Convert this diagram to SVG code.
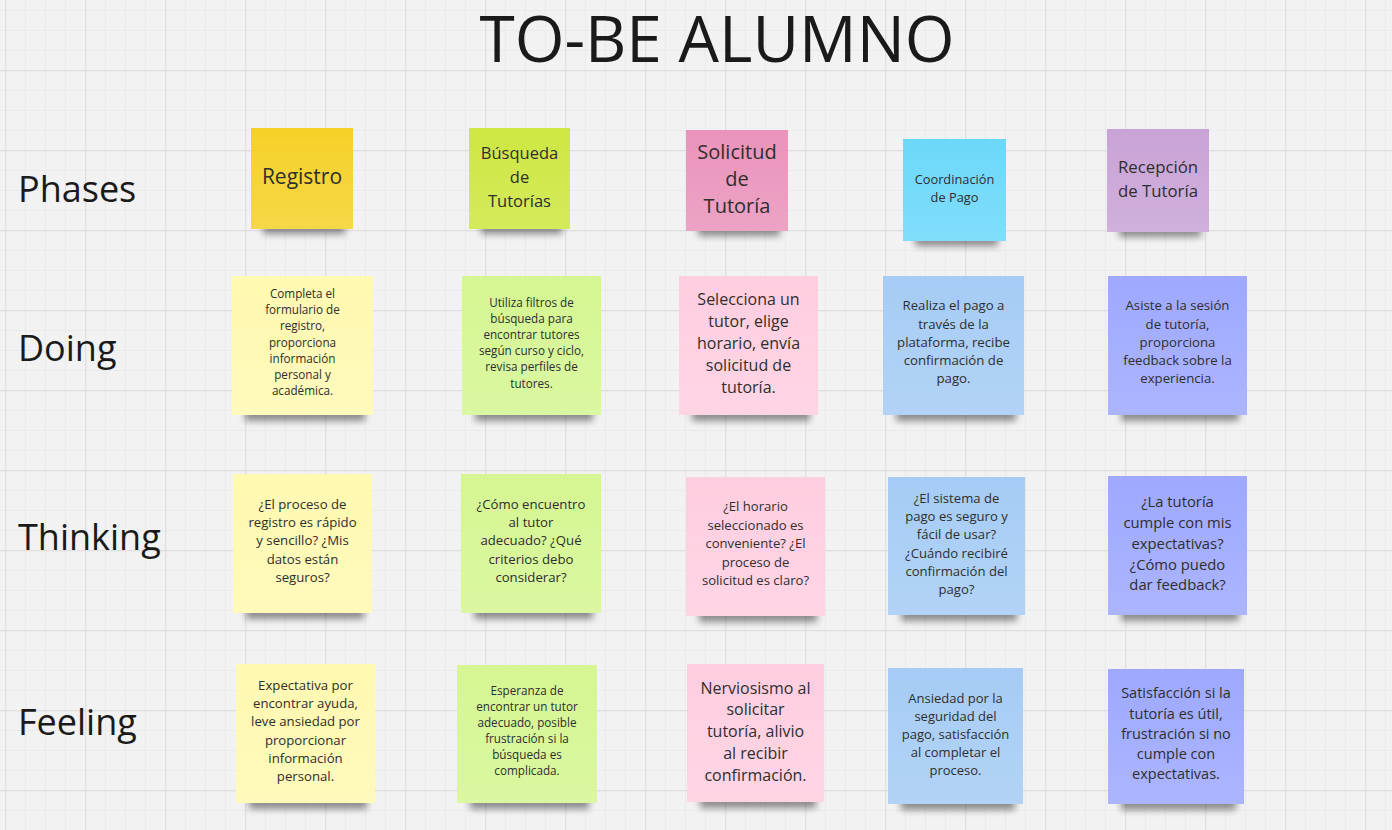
<svg xmlns="http://www.w3.org/2000/svg" width="1392" height="830" viewBox="0 0 1392 830">
<defs>
<pattern id="grid" patternUnits="userSpaceOnUse" x="5" y="-10" width="80" height="80">
<rect x="0" y="0" width="80" height="80" fill="#f2f2f2"/>
<g fill="#eaeaea">
<rect x="20" y="0" width="1" height="80"/><rect x="40" y="0" width="1" height="80"/><rect x="60" y="0" width="1" height="80"/>
<rect x="0" y="20" width="80" height="1"/><rect x="0" y="40" width="80" height="1"/><rect x="0" y="60" width="80" height="1"/>
</g>
<g fill="#dfdfdf">
<rect x="0" y="0" width="1.3" height="80"/><rect x="0" y="0" width="80" height="1.3"/>
</g>
</pattern>
<linearGradient id="sheen" x1="0" y1="0" x2="0" y2="1">
<stop offset="0" stop-color="#fff" stop-opacity="0"/>
<stop offset="1" stop-color="#fff" stop-opacity="0.14"/>
</linearGradient>
<filter id="blur" x="-20%" y="-100%" width="140%" height="300%">
<feGaussianBlur stdDeviation="3.5"/>
</filter>
<style>
.lbl{font-family:"Open Sans","Liberation Sans",sans-serif;fill:#1a1a1a;font-size:36px}
.title{font-family:"Open Sans","Liberation Sans",sans-serif;fill:#1a1a1a;font-size:64px;text-anchor:middle}
.t{font-family:"Open Sans","Liberation Sans",sans-serif;fill:#2e2e2e;text-anchor:middle}
.sh{fill:#000;opacity:0.42;filter:url(#blur)}
.gl{fill:url(#sheen)}
.yel{fill:#fff9b1}.grn{fill:#d5f692}.pnk{fill:#ffcee0}.blu{fill:#a6ccf5}.vio{fill:#9ea9ff}
</style>
</defs>
<rect id="background" x="0" y="0" width="1392" height="830" fill="url(#grid)"/>

<g id="labels">
<text class="title" x="717" y="62">TO-BE ALUMNO</text>
<text class="lbl" x="18" y="202">Phases</text>
<text class="lbl" x="18" y="361">Doing</text>
<text class="lbl" x="18" y="550">Thinking</text>
<text class="lbl" x="18" y="735">Feeling</text>
</g>

<!-- Phases -->
<g id="phase-registro">
<rect class="sh" x="263" y="222" width="82" height="12"/>
<rect x="251" y="128" width="102" height="101" fill="#f5d128"/>
<rect class="gl" x="251" y="128" width="102" height="101"/>
<text class="t" x="302" y="184" font-size="21">Registro</text>
</g>
<g id="phase-busqueda">
<rect class="sh" x="481" y="222" width="81" height="12"/>
<rect x="469" y="128" width="101" height="101" fill="#cee741"/>
<rect class="gl" x="469" y="128" width="101" height="101"/>
<text class="t" x="519.5" y="159" font-size="16.5"><tspan x="519.5">Búsqueda</tspan><tspan x="519.5" dy="24">de</tspan><tspan x="519.5" dy="23.5">Tutorías</tspan></text>
</g>
<g id="phase-solicitud">
<rect class="sh" x="698" y="224" width="82" height="12"/>
<rect x="686" y="130" width="102" height="101" fill="#ea94bb"/>
<rect class="gl" x="686" y="130" width="102" height="101"/>
<text class="t" x="737" y="158.5" font-size="20"><tspan x="737">Solicitud</tspan><tspan x="737" dy="27.5">de</tspan><tspan x="737" dy="27">Tutoría</tspan></text>
</g>
<g id="phase-coordinacion">
<rect class="sh" x="915" y="234" width="83" height="12"/>
<rect x="903" y="139" width="103" height="102" fill="#6cd8fa"/>
<rect class="gl" x="903" y="139" width="103" height="102"/>
<text class="t" x="954.5" y="184" font-size="12.8"><tspan x="954.5">Coordinación</tspan><tspan x="954.5" dy="18.3">de Pago</tspan></text>
</g>
<g id="phase-recepcion">
<rect class="sh" x="1119" y="225" width="82" height="12"/>
<rect x="1107" y="129" width="102" height="103" fill="#c9a3d6"/>
<rect class="gl" x="1107" y="129" width="102" height="103"/>
<text class="t" x="1158" y="173.3" font-size="16.8"><tspan x="1158">Recepción</tspan><tspan x="1158" dy="23.4">de Tutoría</tspan></text>
</g>

<!-- Doing -->
<g id="doing-registro">
<rect class="sh" x="245" y="407" width="120" height="14"/>
<rect class="yel" x="232" y="276" width="141" height="139"/>
<rect class="gl" x="232" y="276" width="141" height="139"/>
<text class="t" x="302.5" y="297.6" font-size="11.7"><tspan x="302.5">Completa el</tspan><tspan x="302.5" dy="16.3">formulario de</tspan><tspan x="302.5" dy="16.3">registro,</tspan><tspan x="302.5" dy="16.3">proporciona</tspan><tspan x="302.5" dy="16.3">información</tspan><tspan x="302.5" dy="16.3">personal y</tspan><tspan x="302.5" dy="16.3">académica.</tspan></text>
</g>
<g id="doing-busqueda">
<rect class="sh" x="475" y="407" width="118" height="14"/>
<rect class="grn" x="462" y="276" width="139" height="139"/>
<rect class="gl" x="462" y="276" width="139" height="139"/>
<text class="t" x="531.5" y="306.6" font-size="11.7"><tspan x="531.5">Utiliza filtros de</tspan><tspan x="531.5" dy="16.2">búsqueda para</tspan><tspan x="531.5" dy="16.2">encontrar tutores</tspan><tspan x="531.5" dy="16.2">según curso y ciclo,</tspan><tspan x="531.5" dy="16.2">revisa perfiles de</tspan><tspan x="531.5" dy="16.2">tutores.</tspan></text>
</g>
<g id="doing-solicitud">
<rect class="sh" x="692" y="407" width="118" height="14"/>
<rect class="pnk" x="679" y="276" width="139" height="139"/>
<rect class="gl" x="679" y="276" width="139" height="139"/>
<text class="t" x="748.5" y="304.5" font-size="16"><tspan x="748.5">Selecciona un</tspan><tspan x="748.5" dy="22">tutor, elige</tspan><tspan x="748.5" dy="22">horario, envía</tspan><tspan x="748.5" dy="22">solicitud de</tspan><tspan x="748.5" dy="22">tutoría.</tspan></text>
</g>
<g id="doing-coordinacion">
<rect class="sh" x="896" y="407" width="120" height="14"/>
<rect class="blu" x="883" y="276" width="141" height="139"/>
<rect class="gl" x="883" y="276" width="141" height="139"/>
<text class="t" x="953.5" y="310.4" font-size="13.2"><tspan x="953.5">Realiza el pago a</tspan><tspan x="953.5" dy="18.25">través de la</tspan><tspan x="953.5" dy="18.25">plataforma, recibe</tspan><tspan x="953.5" dy="18.25">confirmación de</tspan><tspan x="953.5" dy="18.25">pago.</tspan></text>
</g>
<g id="doing-recepcion">
<rect class="sh" x="1121" y="407" width="118" height="14"/>
<rect class="vio" x="1108" y="276" width="139" height="139"/>
<rect class="gl" x="1108" y="276" width="139" height="139"/>
<text class="t" x="1177.5" y="310.4" font-size="13.2"><tspan x="1177.5">Asiste a la sesión</tspan><tspan x="1177.5" dy="18.25">de tutoría,</tspan><tspan x="1177.5" dy="18.25">proporciona</tspan><tspan x="1177.5" dy="18.25">feedback sobre la</tspan><tspan x="1177.5" dy="18.25">experiencia.</tspan></text>
</g>

<!-- Thinking -->
<g id="thinking-registro">
<rect class="sh" x="246" y="605" width="118" height="14"/>
<rect class="yel" x="233" y="474" width="139" height="139"/>
<rect class="gl" x="233" y="474" width="139" height="139"/>
<text class="t" x="302.5" y="508.7" font-size="13.2"><tspan x="302.5">¿El proceso de</tspan><tspan x="302.5" dy="18.3">registro es rápido</tspan><tspan x="302.5" dy="18.3">y sencillo? ¿Mis</tspan><tspan x="302.5" dy="18.3">datos están</tspan><tspan x="302.5" dy="18.3">seguros?</tspan></text>
</g>
<g id="thinking-busqueda">
<rect class="sh" x="474" y="605" width="119" height="14"/>
<rect class="grn" x="461" y="474" width="140" height="139"/>
<rect class="gl" x="461" y="474" width="140" height="139"/>
<text class="t" x="531" y="508.7" font-size="13.2"><tspan x="531">¿Cómo encuentro</tspan><tspan x="531" dy="18.3">al tutor</tspan><tspan x="531" dy="18.3">adecuado? ¿Qué</tspan><tspan x="531" dy="18.3">criterios debo</tspan><tspan x="531" dy="18.3">considerar?</tspan></text>
</g>
<g id="thinking-solicitud">
<rect class="sh" x="699" y="608" width="118" height="14"/>
<rect class="pnk" x="686" y="477" width="139" height="139"/>
<rect class="gl" x="686" y="477" width="139" height="139"/>
<text class="t" x="755.5" y="511.4" font-size="13.1"><tspan x="755.5">¿El horario</tspan><tspan x="755.5" dy="18.5">seleccionado es</tspan><tspan x="755.5" dy="18.5">conveniente? ¿El</tspan><tspan x="755.5" dy="18.5">proceso de</tspan><tspan x="755.5" dy="18.5">solicitud es claro?</tspan></text>
</g>
<g id="thinking-coordinacion">
<rect class="sh" x="901" y="607" width="116" height="14"/>
<rect class="blu" x="888" y="477" width="137" height="138"/>
<rect class="gl" x="888" y="477" width="137" height="138"/>
<text class="t" x="956.5" y="502.7" font-size="13.1"><tspan x="956.5">¿El sistema de</tspan><tspan x="956.5" dy="18.3">pago es seguro y</tspan><tspan x="956.5" dy="18.3">fácil de usar?</tspan><tspan x="956.5" dy="18.3">¿Cuándo recibiré</tspan><tspan x="956.5" dy="18.3">confirmación del</tspan><tspan x="956.5" dy="18.3">pago?</tspan></text>
</g>
<g id="thinking-recepcion">
<rect class="sh" x="1121" y="607" width="118" height="14"/>
<rect class="vio" x="1108" y="476" width="139" height="139"/>
<rect class="gl" x="1108" y="476" width="139" height="139"/>
<text class="t" x="1177.5" y="507.4" font-size="14.8"><tspan x="1177.5">¿La tutoría</tspan><tspan x="1177.5" dy="20.7">cumple con mis</tspan><tspan x="1177.5" dy="20.7">expectativas?</tspan><tspan x="1177.5" dy="20.7">¿Cómo puedo</tspan><tspan x="1177.5" dy="20.7">dar feedback?</tspan></text>
</g>

<!-- Feeling -->
<g id="feeling-registro">
<rect class="sh" x="249" y="795" width="118" height="14"/>
<rect class="yel" x="236" y="664" width="139" height="139"/>
<rect class="gl" x="236" y="664" width="139" height="139"/>
<text class="t" x="305.5" y="689.7" font-size="13.2"><tspan x="305.5">Expectativa por</tspan><tspan x="305.5" dy="18.3">encontrar ayuda,</tspan><tspan x="305.5" dy="18.3">leve ansiedad por</tspan><tspan x="305.5" dy="18.3">proporcionar</tspan><tspan x="305.5" dy="18.3">información</tspan><tspan x="305.5" dy="18.3">personal.</tspan></text>
</g>
<g id="feeling-busqueda">
<rect class="sh" x="470" y="795" width="119" height="14"/>
<rect class="grn" x="457" y="665" width="140" height="138"/>
<rect class="gl" x="457" y="665" width="140" height="138"/>
<text class="t" x="527" y="695" font-size="11.7"><tspan x="527">Esperanza de</tspan><tspan x="527" dy="16">encontrar un tutor</tspan><tspan x="527" dy="16">adecuado, posible</tspan><tspan x="527" dy="16">frustración si la</tspan><tspan x="527" dy="16">búsqueda es</tspan><tspan x="527" dy="16">complicada.</tspan></text>
</g>
<g id="feeling-solicitud">
<rect class="sh" x="700" y="794" width="116" height="14"/>
<rect class="pnk" x="687" y="664" width="137" height="138"/>
<rect class="gl" x="687" y="664" width="137" height="138"/>
<text class="t" x="755.5" y="693.5" font-size="16"><tspan x="755.5">Nerviosismo al</tspan><tspan x="755.5" dy="21.75">solicitar</tspan><tspan x="755.5" dy="21.75">tutoría, alivio</tspan><tspan x="755.5" dy="21.75">al recibir</tspan><tspan x="755.5" dy="21.75">confirmación.</tspan></text>
</g>
<g id="feeling-coordinacion">
<rect class="sh" x="901" y="796" width="114" height="14"/>
<rect class="blu" x="888" y="668" width="135" height="136"/>
<rect class="gl" x="888" y="668" width="135" height="136"/>
<text class="t" x="955.5" y="702.9" font-size="13"><tspan x="955.5">Ansiedad por la</tspan><tspan x="955.5" dy="18.1">seguridad del</tspan><tspan x="955.5" dy="18.1">pago, satisfacción</tspan><tspan x="955.5" dy="18.1">al completar el</tspan><tspan x="955.5" dy="18.1">proceso.</tspan></text>
</g>
<g id="feeling-recepcion">
<rect class="sh" x="1121" y="796" width="115" height="14"/>
<rect class="vio" x="1108" y="669" width="136" height="135"/>
<rect class="gl" x="1108" y="669" width="136" height="135"/>
<text class="t" x="1176" y="698.3" font-size="14.5"><tspan x="1176">Satisfacción si la</tspan><tspan x="1176" dy="20.2">tutoría es útil,</tspan><tspan x="1176" dy="20.2">frustración si no</tspan><tspan x="1176" dy="20.2">cumple con</tspan><tspan x="1176" dy="20.2">expectativas.</tspan></text>
</g>
</svg>
